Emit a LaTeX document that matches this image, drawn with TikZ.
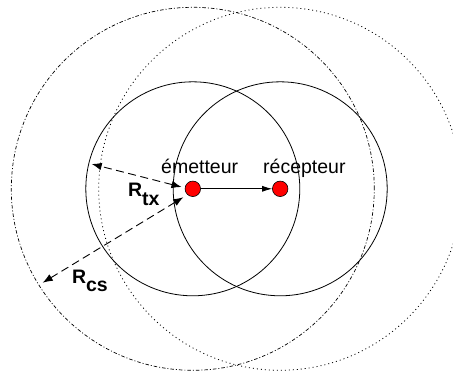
\documentclass[tikz,border=0pt]{standalone}
\usepackage{fontspec}
\setmainfont{Liberation Sans}
\usetikzlibrary{arrows.meta}
\tikzset{
  station/.style={circle,draw=black,line width=0.6pt,fill=red,minimum size=15.5pt,inner sep=0pt},
  txrange/.style={draw=black,line width=0.8pt},
  csemit/.style={draw=black,line width=0.7pt,dash pattern=on 3.5pt off 2pt on 1pt off 2pt},
  csrecv/.style={draw=black,line width=0.8pt,dash pattern=on 1pt off 3pt},
  radius arrow/.style={draw=black,line width=0.9pt,dash pattern=on 8pt off 4.5pt,{Latex[length=10pt,width=7.5pt]}-{Latex[length=10pt,width=7.5pt]}},
  link/.style={draw=black,line width=0.8pt,-{Latex[length=10pt,width=6pt]}},
  lbl/.style={inner sep=0pt,anchor=base west,font=\fontsize{19.5pt}{22pt}\selectfont},
  rlbl/.style={inner sep=0pt,anchor=base west,font=\fontsize{19.5pt}{22pt}\selectfont\bfseries}
}
\begin{document}
\begin{tikzpicture}[x=1pt,y=-1pt]
\useasboundingbox (0,0) rectangle (453,372);
\node[station] (em) at (192.8,188.8) {};
\node[station] (rc) at (280.2,188.8) {};
\path[txrange] (em.center) circle[radius=107pt];
\path[txrange] (rc.center) circle[radius=107pt];
\path[csemit] (em.center) circle[radius=181.5pt];
\path[csrecv] (rc.center) circle[radius=181.5pt];
\coordinate (txs) at (181.5,187);
\coordinate (txe) at (91.7,164);
\coordinate (css) at (183.3,197.3);
\coordinate (cse) at (42.7,282.7);
\path[radius arrow] (txs) -- (txe);
\path[radius arrow] (css) -- (cse);
\path[link] (em) -- (rc);
\node[lbl] (lem) at (161,173.3) {émetteur};
\node[lbl] (lrc) at (263,173.3) {récepteur};
\node[rlbl] (ltx) at (127.8,196.7) {R\raisebox{-8.5pt}{tx}};
\node[rlbl] (lcs) at (71.8,283.3) {R\raisebox{-8.4pt}{cs}};
\end{tikzpicture}
\end{document}
